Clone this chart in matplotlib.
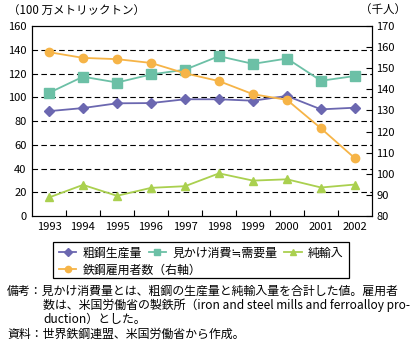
import matplotlib
matplotlib.use("Agg")
import matplotlib.pyplot as plt
from matplotlib.ticker import FixedLocator
from matplotlib.patches import Rectangle

plt.rcParams['font.family'] = ['Noto Sans CJK JP', 'DejaVu Sans']

years = ["1993", "1994", "1995", "1996", "1997", "1998", "1999", "2000", "2001", "2002"]
crude_steel = [88.3, 90.9, 94.9, 95.1, 98.3, 98.3, 97.1, 101.1, 89.8, 91.2]
apparent_consumption = [103.7, 117.3, 112.4, 119.2, 123.2, 134.6, 128.1, 132.6, 113.9, 117.9]
net_imports = [15.6, 26.2, 17.0, 23.7, 25.1, 35.9, 29.8, 30.9, 24.0, 26.5]
employment = [157.6, 154.9, 154.3, 152.5, 147.6, 143.9, 137.7, 135.0, 121.5, 107.3]

c_purple = "#6b67b0"
c_teal = "#6cc0a6"
c_green = "#aad04f"
c_orange = "#f6b447"

W, H = 411, 345
fig = plt.figure(figsize=(W/100, H/100), dpi=100)
ax = fig.add_axes([32/W, 1-216/H, 340/W, 190/H])
ax2 = ax.twinx()

x = list(range(len(years)))
l1, = ax.plot(x, crude_steel, color=c_purple, marker="D", markersize=5, lw=1.3, label="粗鋼生産量")
l2, = ax.plot(x, apparent_consumption, color=c_teal, marker="s", markersize=6.5, lw=1.3, label="見かけ消費≒需要量")
l3, = ax.plot(x, net_imports, color=c_green, marker="^", markersize=6, lw=1.3, label="純輸入")
l4, = ax2.plot(x, employment, color=c_orange, marker="o", markersize=6, lw=1.3, label="鉄鋼雇用者数（右軸）")

ax.set_ylim(0, 160)
ax.set_yticks(range(0, 161, 20))
ax2.set_ylim(80, 170)
ax2.set_yticks(range(80, 171, 10))
ax.set_xlim(-0.5, 9.5)
ax.set_xticks(x)
ax.set_xticklabels(years)
ax.xaxis.set_minor_locator(FixedLocator([i + 0.5 for i in range(9)]))
ax.tick_params(axis="x", which="major", length=0, labelsize=8, pad=4)
ax.tick_params(axis="x", which="minor", length=4, direction="in", width=0.8)
ax.tick_params(axis="y", length=0, labelsize=8, pad=4)
ax2.tick_params(axis="y", length=4, direction="in", labelsize=8, pad=3, width=0.8)

for v in range(20, 160, 20):
    ax.axhline(v, color="black", lw=0.8, ls=(0, (5, 3)), zorder=0)

for a in (ax, ax2):
    for s in a.spines.values():
        s.set_linewidth(0.8)
        s.set_color("black")

fig.text(8/W, 1-10/H, "（100 万メトリックトン）", fontsize=8.3, va="center", ha="left")
fig.text(406/W, 1-10/H, "（千人）", fontsize=8.3, va="center", ha="right")

# legend frame
fig.patches.append(Rectangle((53/W, 1-278/H), (349-53)/W, (278-242)/H,
                             transform=fig.transFigure, fill=False,
                             edgecolor="black", linewidth=0.9))
common = dict(fontsize=8.6, frameon=False, handlelength=1.45, handletextpad=0.5,
              columnspacing=0.6, borderpad=0, borderaxespad=0, markerscale=0.75)
leg1 = fig.legend([l1, l2, l3], [l1.get_label(), l2.get_label(), l3.get_label()],
                  ncol=3, loc="center left", bbox_to_anchor=(59/W, 1-253/H), **common)
leg2 = fig.legend([l4], [l4.get_label()], ncol=1, loc="center left",
                  bbox_to_anchor=(59/W, 1-270/H), **common)

notes = [
    (7, 291, "備考：見かけ消費量とは、粗鋼の生産量と純輸入量を合計した値。雇用者"),
    (43, 305, "数は、米国労働省の製鉄所（iron and steel mills and ferroalloy pro-"),
    (43, 319, "duction）とした。"),
    (7, 334, "資料：世界鉄鋼連盟、米国労働省から作成。"),
]
for nx, ny, t in notes:
    fig.text(nx/W, 1-ny/H, t, fontsize=8.6, va="center", ha="left")

fig.savefig("out.png", dpi=100)
